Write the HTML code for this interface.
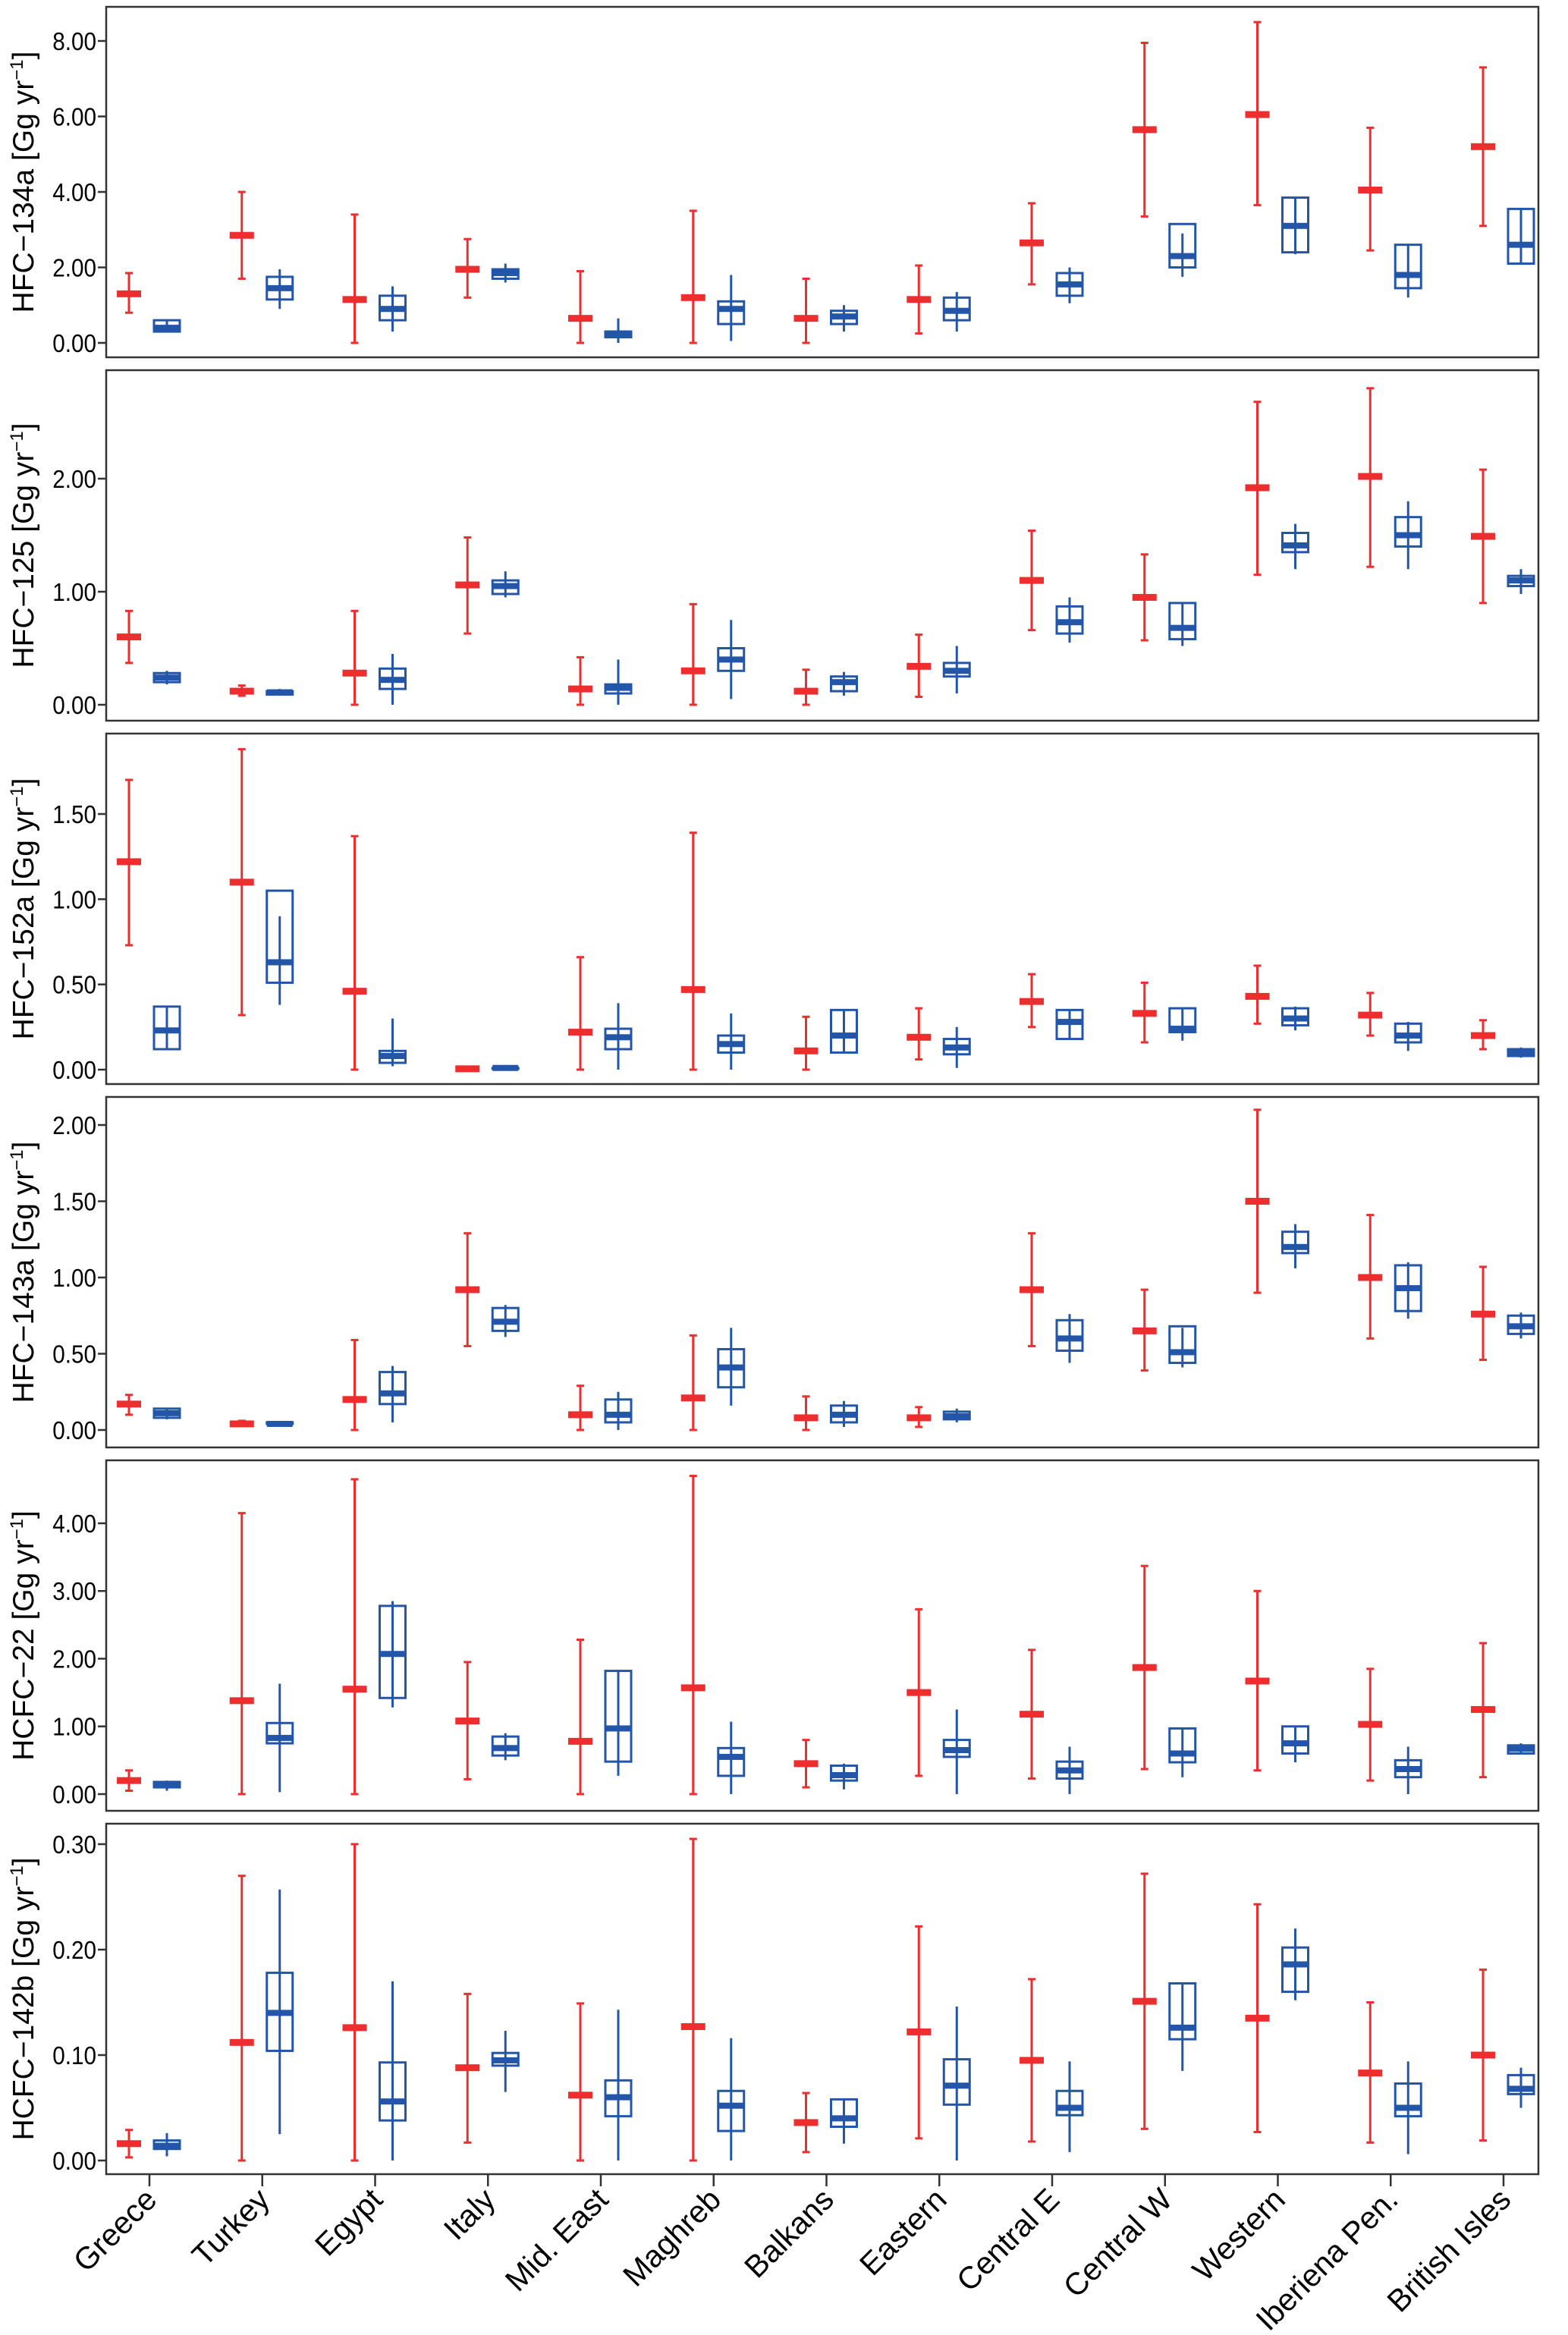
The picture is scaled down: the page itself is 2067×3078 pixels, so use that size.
<!DOCTYPE html>
<html><head><meta charset="utf-8"><style>
html,body{margin:0;padding:0;background:#fff;}
svg{display:block;font-family:"Liberation Sans",sans-serif;}
</style></head><body>
<svg id="chart" width="2067" height="3078" viewBox="0 0 2067 3078" xmlns="http://www.w3.org/2000/svg"></svg>
<script>
const categories=["Greece","Turkey","Egypt","Italy","Mid. East","Maghreb","Balkans","Eastern","Central E","Central W","Western","Iberiena Pen.","British Isles"];
const panelTitles=["HFC\u2212134a","HFC\u2212125","HFC\u2212152a","HFC\u2212143a","HCFC\u221222","HCFC\u2212142b"];
const tickValues=[[0,2,4,6,8],[0,1,2],[0,0.5,1,1.5],[0,0.5,1,1.5,2],[0,1,2,3,4],[0,0.1,0.2,0.3]];
const tickLabels=[["0.00","2.00","4.00","6.00","8.00"],["0.00","1.00","2.00"],["0.00","0.50","1.00","1.50"],["0.00","0.50","1.00","1.50","2.00"],["0.00","1.00","2.00","3.00","4.00"],["0.00","0.10","0.20","0.30"]];
// red: [low, median, high]
const red134a=[[0.8,1.3,1.85],[1.7,2.85,4.0],[0,1.15,3.4],[1.2,1.95,2.75],[0,0.65,1.9],[0,1.2,3.5],[0,0.65,1.7],[0.25,1.15,2.05],[1.55,2.65,3.7],[3.35,5.65,7.95],[3.65,6.05,8.5],[2.45,4.05,5.7],[3.1,5.2,7.3]];
// blue: [whiskerLow, q1, median, q3, whiskerHigh]
const blue134a=[[0.3,0.3,0.4,0.6,0.6],[0.9,1.15,1.45,1.75,1.95],[0.3,0.6,0.9,1.25,1.5],[1.6,1.7,1.85,1.95,2.1],[0,0.15,0.25,0.3,0.65],[0.05,0.5,0.9,1.1,1.8],[0.3,0.5,0.7,0.85,1.0],[0.3,0.6,0.85,1.2,1.35],[1.05,1.25,1.55,1.85,2.0],[1.75,2.0,2.3,3.15,2.9],[2.35,2.4,3.1,3.85,3.85],[1.2,1.45,1.8,2.6,2.6],[2.1,2.1,2.6,3.55,3.55]];
const red125=[[0.37,0.6,0.83],[0.08,0.12,0.17],[0,0.28,0.83],[0.63,1.06,1.48],[0,0.14,0.42],[0,0.3,0.89],[0,0.12,0.31],[0.07,0.34,0.62],[0.66,1.1,1.54],[0.57,0.95,1.33],[1.15,1.92,2.68],[1.22,2.02,2.8],[0.9,1.49,2.08]];
const blue125=[[0.18,0.2,0.24,0.28,0.3],[0.08,0.09,0.11,0.12,0.14],[0,0.14,0.22,0.32,0.45],[0.95,0.98,1.05,1.1,1.18],[0,0.1,0.15,0.18,0.4],[0.05,0.3,0.4,0.5,0.75],[0.08,0.12,0.2,0.25,0.29],[0.1,0.25,0.3,0.37,0.52],[0.55,0.63,0.73,0.87,0.95],[0.52,0.58,0.68,0.9,0.9],[1.2,1.35,1.41,1.52,1.6],[1.2,1.4,1.5,1.66,1.8],[0.98,1.05,1.1,1.14,1.2]];
const red152a=[[0.73,1.22,1.7],[0.32,1.1,1.88],[0,0.46,1.37],[0,0.005,0.01],[0,0.22,0.66],[0,0.47,1.39],[0,0.11,0.31],[0.06,0.19,0.36],[0.25,0.4,0.56],[0.16,0.33,0.51],[0.27,0.43,0.61],[0.2,0.32,0.45],[0.12,0.2,0.29]];
const blue152a=[[0.12,0.12,0.23,0.37,0.37],[0.38,0.51,0.63,1.05,0.9],[0.02,0.04,0.08,0.11,0.3],[0,0.005,0.01,0.01,0.01],[0,0.12,0.19,0.24,0.39],[0,0.1,0.15,0.2,0.33],[0.1,0.1,0.2,0.35,0.35],[0.01,0.09,0.13,0.18,0.25],[0.18,0.18,0.28,0.35,0.35],[0.17,0.22,0.24,0.36,0.36],[0.23,0.26,0.3,0.36,0.37],[0.11,0.16,0.2,0.27,0.28],[0.07,0.08,0.1,0.12,0.13]];
const red143a=[[0.1,0.17,0.23],[0.03,0.04,0.06],[0,0.2,0.59],[0.55,0.92,1.29],[0,0.1,0.29],[0,0.21,0.62],[0,0.08,0.22],[0.02,0.08,0.15],[0.55,0.92,1.29],[0.39,0.65,0.92],[0.9,1.5,2.1],[0.6,1.0,1.41],[0.46,0.76,1.07]];
const blue143a=[[0.07,0.08,0.11,0.14,0.14],[0.03,0.04,0.04,0.05,0.05],[0.05,0.17,0.24,0.38,0.42],[0.61,0.65,0.71,0.8,0.82],[0,0.05,0.1,0.2,0.25],[0.16,0.28,0.41,0.53,0.67],[0.02,0.05,0.1,0.16,0.19],[0.05,0.07,0.09,0.12,0.14],[0.44,0.52,0.6,0.72,0.76],[0.41,0.44,0.51,0.68,0.67],[1.06,1.16,1.2,1.3,1.35],[0.73,0.78,0.93,1.08,1.1],[0.6,0.63,0.68,0.75,0.77]];
const red22=[[0.05,0.2,0.35],[0,1.38,4.15],[0,1.55,4.65],[0.22,1.08,1.95],[0,0.78,2.28],[0,1.57,4.7],[0.1,0.45,0.8],[0.27,1.5,2.73],[0.23,1.18,2.13],[0.37,1.87,3.37],[0.35,1.67,3.0],[0.2,1.03,1.85],[0.25,1.25,2.23]];
const blue22=[[0.05,0.1,0.15,0.18,0.2],[0.03,0.75,0.83,1.05,1.63],[1.28,1.42,2.07,2.78,2.85],[0.5,0.57,0.68,0.85,0.9],[0.27,0.48,0.97,1.82,1.82],[0,0.27,0.55,0.68,1.07],[0.07,0.2,0.28,0.42,0.45],[0,0.55,0.65,0.8,1.25],[0,0.23,0.35,0.48,0.7],[0.25,0.47,0.6,0.97,0.97],[0.47,0.6,0.75,1.0,1.0],[0,0.25,0.37,0.5,0.7],[0.6,0.6,0.67,0.72,0.75]];
const red142b=[[0.003,0.016,0.029],[0,0.112,0.27],[0,0.126,0.3],[0.017,0.088,0.158],[0,0.062,0.149],[0,0.127,0.305],[0.008,0.036,0.064],[0.021,0.122,0.222],[0.018,0.095,0.172],[0.03,0.151,0.272],[0.027,0.135,0.243],[0.017,0.083,0.15],[0.019,0.1,0.181]];
const blue142b=[[0.004,0.011,0.014,0.019,0.026],[0.025,0.104,0.14,0.178,0.257],[0,0.038,0.056,0.093,0.17],[0.065,0.09,0.095,0.102,0.123],[0,0.042,0.06,0.076,0.143],[0,0.028,0.052,0.066,0.116],[0.016,0.032,0.04,0.058,0.058],[0,0.053,0.071,0.096,0.146],[0.008,0.043,0.05,0.066,0.094],[0.085,0.115,0.126,0.168,0.168],[0.152,0.16,0.186,0.202,0.22],[0.006,0.042,0.05,0.073,0.094],[0.05,0.063,0.068,0.081,0.088]];
const redSeries=[red134a,red125,red152a,red143a,red22,red142b];
const blueSeries=[blue134a,blue125,blue152a,blue143a,blue22,blue142b];

const NS="http://www.w3.org/2000/svg";
const svg=document.getElementById("chart");
const L=140,R=2028,PT=9,PITCH=479,PH=462;
const X0=197,DX=148.75;
const axisPix=[[443,45],[441,143],[443,106],[439,37],[440,83],[444,27]];
const RED="#ee2e2e",BLUE="#2356a8";
function mk(tag,attrs,parent){const e=document.createElementNS(NS,tag);for(const k in attrs)e.setAttribute(k,attrs[k]);(parent||svg).appendChild(e);return e;}
function xScale(i){return X0+i*DX;}

for(let p=0;p<6;p++){
  const top=PT+p*PITCH,bot=top+PH;
  const tv=tickValues[p];
  const v0=tv[0],v1=tv[tv.length-1];
  const y0=top+axisPix[p][0],y1=top+axisPix[p][1];
  const yScale=v=>y0+(v-v0)*(y1-y0)/(v1-v0);
  const g=mk("g",{});
  
  
  const frame=mk("rect",{x:L,y:top,width:R-L,height:PH,fill:"none",stroke:"#333","stroke-width":2.5},g);
  
  
  for(let t=0;t<tv.length;t++){
    const y=yScale(tv[t]);
    const tk=mk("line",{x1:L-11,x2:L,y1:y,y2:y,stroke:"#333","stroke-width":2.5},g);
    
    
    const tl=mk("text",{x:L-13,y:y+12,"text-anchor":"end","font-size":33,fill:"#000",transform:`translate(${L-13},0) scale(0.9,1) translate(${-(L-13)},0)`},g);
    tl.textContent=tickLabels[p][t];
    
    
  }
  const cy=(top+bot)/2;
  const yt=mk("text",{x:0,y:0,"text-anchor":"middle","font-size":39,fill:"#000",transform:`translate(44,${cy}) rotate(-90)`},g);
  
  
  yt.appendChild(document.createTextNode(panelTitles[p]+" [Gg yr"));
  const sup=mk("tspan",{"font-size":24,dy:-14},yt);sup.textContent="\u22121";
  const cl=mk("tspan",{dy:14},yt);cl.textContent="]";

  const rs=redSeries[p],bs=blueSeries[p];
  for(let i=0;i<categories.length;i++){
    const xc=xScale(i);
    const xr=xc-27,xb=xc+23;
    const r=rs[i];
    const rg=mk("g",{},g);
    
    
    mk("line",{x1:xr,x2:xr,y1:yScale(r[0]),y2:yScale(r[2]),stroke:RED,"stroke-width":3},rg);
    mk("line",{x1:xr-5,x2:xr+5,y1:yScale(r[0]),y2:yScale(r[0]),stroke:RED,"stroke-width":3},rg);
    mk("line",{x1:xr-5,x2:xr+5,y1:yScale(r[2]),y2:yScale(r[2]),stroke:RED,"stroke-width":3},rg);
    mk("rect",{x:xr-16,y:yScale(r[1])-4.5,width:32,height:9,fill:RED},rg);
    const b=bs[i];
    const bg=mk("g",{},g);
    
    
    mk("line",{x1:xb,x2:xb,y1:yScale(b[0]),y2:yScale(b[4]),stroke:BLUE,"stroke-width":3},bg);
    const yq3=yScale(b[3]),yq1=yScale(b[1]);
    mk("rect",{x:xb-17,y:Math.min(yq3,yq1),width:34,height:Math.max(1,Math.abs(yq1-yq3)),fill:"none",stroke:BLUE,"stroke-width":3},bg);
    mk("rect",{x:xb-17,y:yScale(b[2])-4,width:34,height:8,fill:BLUE},bg);
  }
}
const lastBot=PT+5*PITCH+PH;
for(let i=0;i<categories.length;i++){
  const x=xScale(i);
  const t=mk("line",{x1:x,x2:x,y1:lastBot,y2:lastBot+16,stroke:"#333","stroke-width":2.5});
  
  
  const lb=mk("text",{x:0,y:0,"text-anchor":"end","font-size":41,fill:"#000",transform:`translate(${x+12},${lastBot+36}) rotate(-45)`});
  lb.textContent=categories[i];
  
  
}
</script>
</body></html>
